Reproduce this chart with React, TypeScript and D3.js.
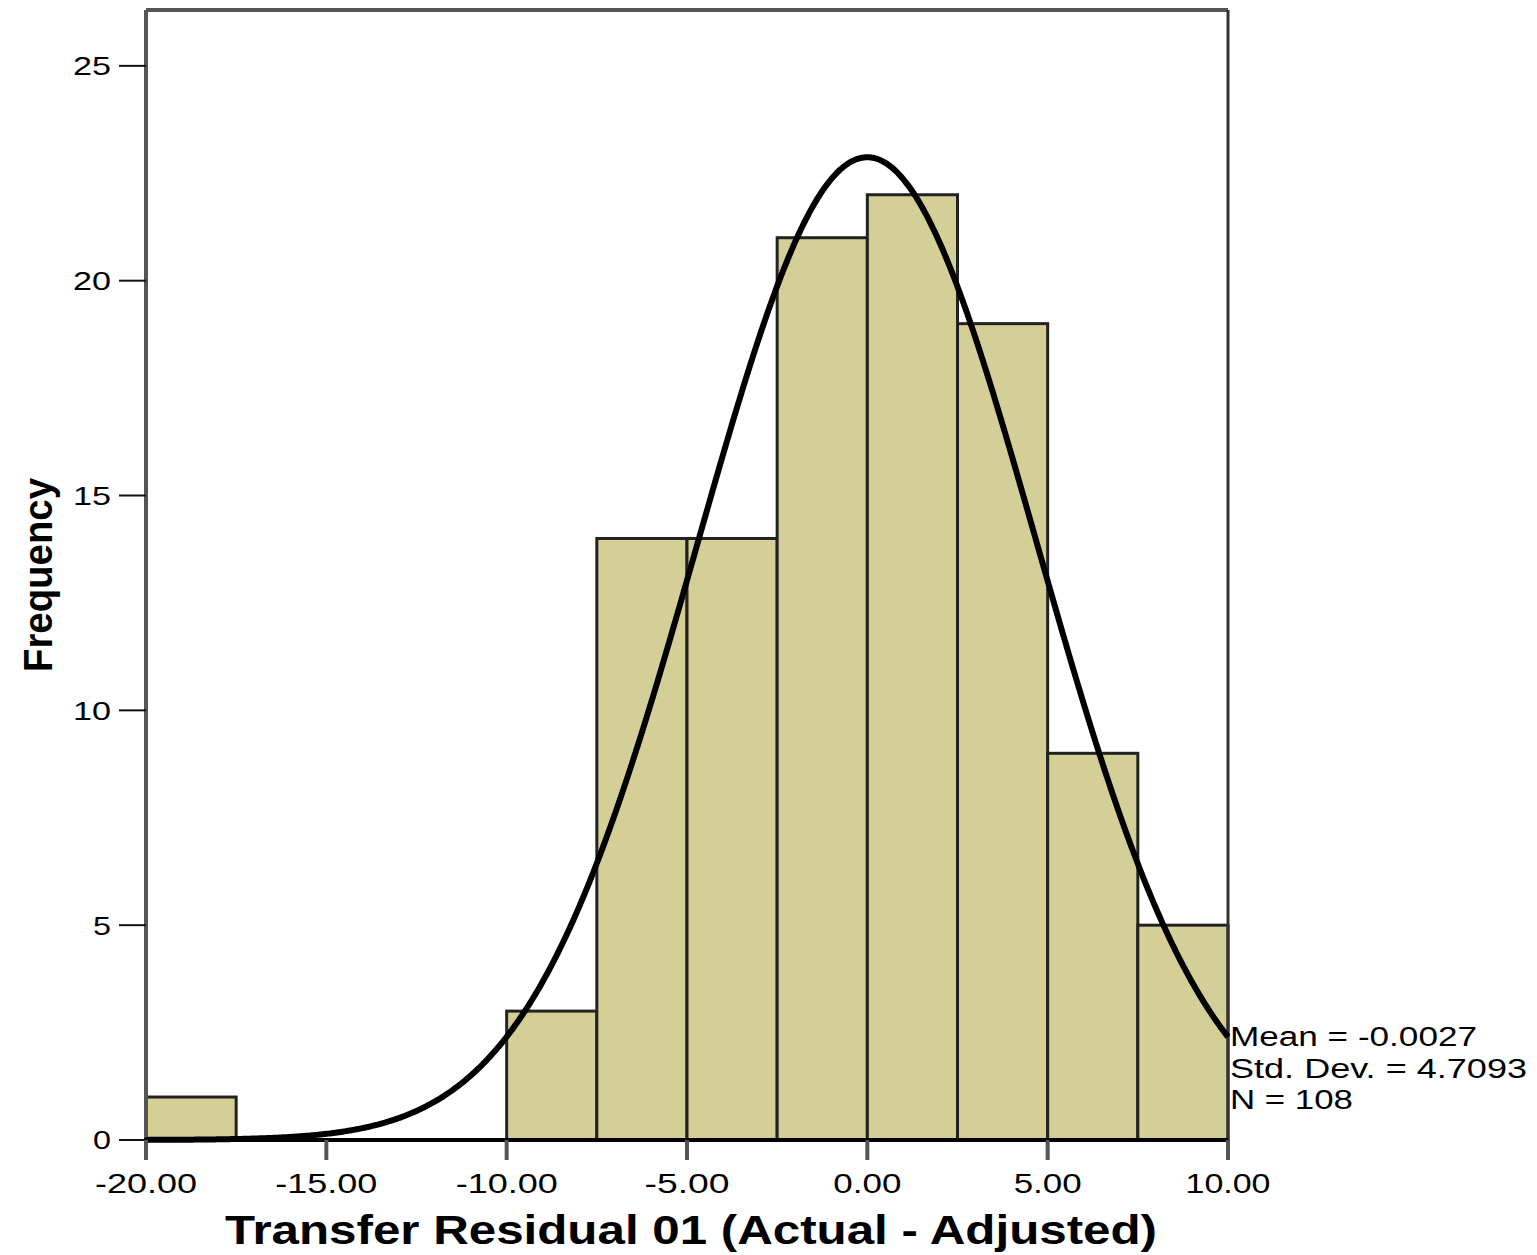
import * as d3 from "d3";

const width = 1537;
const height = 1255;
const margin = { top: 10, right: 309, bottom: 115, left: 146 };

// histogram bins (lower edge) and counts
const binStarts = [-20, -17.5, -15, -12.5, -10, -7.5, -5, -2.5, 0, 2.5, 5, 7.5];
const counts = [1, 0, 0, 0, 3, 14, 14, 21, 22, 19, 9, 5];
const binWidth = 2.5;

const xTicks = [-20, -15, -10, -5, 0, 5, 10];
const yTicks = [0, 5, 10, 15, 20, 25];

const mean = -0.0027;
const stdDev = 4.7093;
const n = 108;
const statLines = ["Mean = -0.0027", "Std. Dev. = 4.7093", "N = 108"];

export default function App() {
  const x = d3.scaleLinear().domain([-20, 10]).range([margin.left, width - margin.right]);
  const y = d3.scaleLinear().domain([0, 26.3]).range([height - margin.bottom, margin.top]);

  // fitted normal curve, scaled to the counts
  const pdf = (v: number) =>
    (n * binWidth) / (stdDev * Math.sqrt(2 * Math.PI)) * Math.exp(-0.5 * ((v - mean) / stdDev) ** 2);
  const curvePts = d3.range(-20, 10.001, 0.05).map(v => [v, pdf(v)] as [number, number]);
  const line = d3.line<[number, number]>().x(d => x(d[0])).y(d => y(d[1])).curve(d3.curveBasis);

  const x0 = x(-20);
  const x1 = x(10);
  const yBase = y(0);
  const yTop = margin.top;
  const font = "'Liberation Sans', Arial, sans-serif";

  return (
    <svg width={width} height={height} style={{ display: "block", position: "absolute", left: 0, top: 0 }}>
      <rect width={width} height={height} fill="#fff" />

      {/* bars */}
      {counts.map((c, i) =>
        c > 0 ? (
          <rect
            key={i}
            x={x(binStarts[i])}
            y={y(c)}
            width={x(binStarts[i] + binWidth) - x(binStarts[i])}
            height={yBase - y(c)}
            fill="#d4cf96"
            stroke="#222"
            strokeWidth={3}
          />
        ) : null
      )}

      {/* frame */}
      <line x1={x0} x2={x1} y1={yTop} y2={yTop} stroke="#555" strokeWidth={4} />
      <line x1={x0} x2={x0} y1={yTop} y2={yBase} stroke="#555" strokeWidth={4} />
      <line x1={x1} x2={x1} y1={yTop} y2={yBase} stroke="#333" strokeWidth={3} />

      {/* normal curve */}
      <path d={line(curvePts) || ""} fill="none" stroke="#000" strokeWidth={6} />

      <line x1={x0 - 2} x2={x1} y1={yBase} y2={yBase} stroke="#000" strokeWidth={4} />

      {/* y axis */}
      {yTicks.map(t => (
        <g key={t}>
          <line x1={x0 - 27} x2={x0} y1={y(t)} y2={y(t)} stroke="#111" strokeWidth={2} />
          <text
            x={x0 - 35}
            y={y(t)}
            dy="0.36em"
            textAnchor="end"
            fontFamily={font}
            fontSize={26}
            fill="#000"
            textLength={t < 10 ? 18 : 38}
            lengthAdjust="spacingAndGlyphs"
          >
            {t}
          </text>
        </g>
      ))}

      {/* x axis */}
      {xTicks.map(t => {
        const label = t.toFixed(2);
        return (
          <g key={t}>
            <line x1={x(t)} x2={x(t)} y1={yBase} y2={yBase + 20} stroke="#555" strokeWidth={4} />
            <text
              x={x(t)}
              y={yBase + 53}
              textAnchor="middle"
              fontFamily={font}
              fontSize={27}
              fill="#000"
              textLength={label.length * 17}
              lengthAdjust="spacingAndGlyphs"
            >
              {label}
            </text>
          </g>
        );
      })}

      <text
        x={(x0 + x1) / 2 + 4}
        y={1244}
        textAnchor="middle"
        fontFamily={font}
        fontWeight="bold"
        fontSize={40}
        fill="#000"
        textLength={932}
        lengthAdjust="spacingAndGlyphs"
      >
        Transfer Residual 01 (Actual - Adjusted)
      </text>

      <text
        transform={`translate(52, 575) rotate(-90)`}
        textAnchor="middle"
        fontFamily={font}
        fontWeight="bold"
        fontSize={40}
        fill="#000"
        textLength={194}
        lengthAdjust="spacingAndGlyphs"
      >
        Frequency
      </text>

      {/* stats */}
      {statLines.map((s, i) => (
        <text
          key={s}
          x={x1 + 2}
          y={1046 + i * 31.5}
          fontFamily={font}
          fontSize={27}
          fill="#000"
          textLength={[247, 297, 123][i]}
          lengthAdjust="spacingAndGlyphs"
        >
          {s}
        </text>
      ))}
    </svg>
  );
}
